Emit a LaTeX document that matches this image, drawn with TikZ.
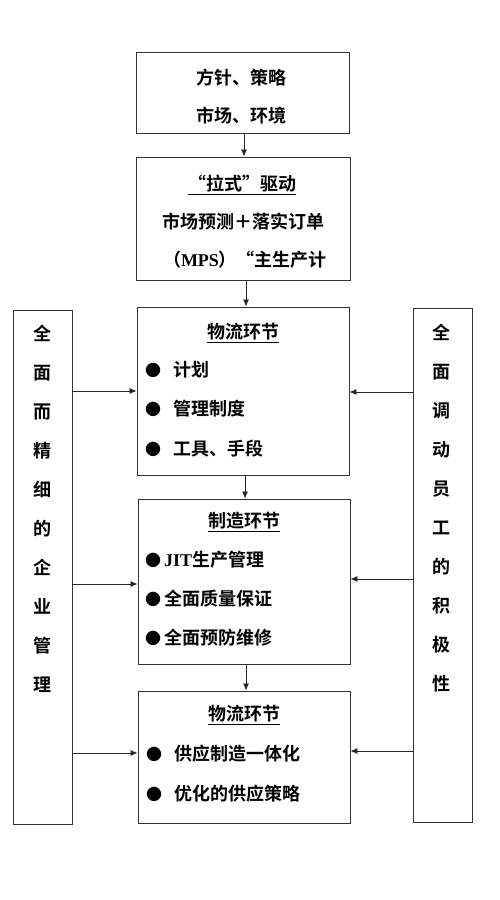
\documentclass[tikz,border=0pt]{standalone}
\usepackage{fontspec}
\usetikzlibrary{arrows.meta}
\newfontfamily\cjk{Noto Sans CJK SC}[BoldFont={* Bold}]
\newfontfamily\latinser{Liberation Serif}
\tikzset{
  box/.style={draw=black!80, line width=0.9pt, rectangle, inner sep=0pt},
  txt/.style={font={\cjk\bfseries\fontsize{18}{20}\selectfont}, inner sep=0pt, text=black},
  bul/.style={font={\cjk\fontsize{16}{18}\selectfont}, inner sep=0pt, text=black},
  vtxt/.style={font={\cjk\bfseries\fontsize{18}{39}\selectfont}, align=center, inner sep=0pt, text=black},
  arr/.style={draw=black!85, line width=0.8pt, -{Latex[length=7pt,width=6pt]}}
}
\newcommand{\ul}[1]{\underline{#1}}
\begin{document}
\begin{tikzpicture}[x=1pt,y=-1pt]
\useasboundingbox (0,0) rectangle (500,900);
% boxes
\node[box, minimum width=213pt, minimum height=81pt] (b1) at (242.5,92.5) {};
\node[box, minimum width=214pt, minimum height=123pt] (b2) at (243,218.5) {};
\node[box, minimum width=212pt, minimum height=168pt] (b3) at (243,391) {};
\node[box, minimum width=212pt, minimum height=165pt] (b4) at (244,581.5) {};
\node[box, minimum width=212pt, minimum height=132pt] (b5) at (244,757) {};
\node[box, minimum width=59pt, minimum height=514pt] (L) at (42.5,567) {};
\node[box, minimum width=59pt, minimum height=514pt] (R) at (442.5,565) {};
% box 1
\node[txt] (t11) at (241,78) {方针、策略};
\node[txt] (t12) at (241,116) {市场、环境};
% box 2
\node[txt] (t21) at (242,185) {\ul{“拉式”驱动}};
\node[txt] (t22) at (243,222) {市场预测＋落实订单};
\node[txt] (t23) at (245,260) {（{\latinser\bfseries MPS}）“主生产计};
% box 3
\node[txt] (t30) at (243,333) {\ul{物流环节}};
\node[bul] (p31) at (153,370) {●};
\node[bul] (p32) at (153,409) {●};
\node[bul] (p33) at (153,449) {●};
\node[txt, anchor=west] (t31) at (173,370) {计划};
\node[txt, anchor=west] (t32) at (173,409) {管理制度};
\node[txt, anchor=west] (t33) at (173,449) {工具、手段};
% box 4
\node[txt] (t40) at (244,522) {\ul{制造环节}};
\node[bul] (p41) at (153,560) {●};
\node[bul] (p42) at (153,599) {●};
\node[bul] (p43) at (153,638) {●};
\node[txt, anchor=west] (t41) at (164,560) {{\latinser\bfseries JIT}生产管理};
\node[txt, anchor=west] (t42) at (164,599) {全面质量保证};
\node[txt, anchor=west] (t43) at (164,638) {全面预防维修};
% box 5
\node[txt] (t50) at (244,715) {\ul{物流环节}};
\node[bul] (p51) at (154,754) {●};
\node[bul] (p52) at (154,794) {●};
\node[txt, anchor=west] (t51) at (174,754) {供应制造一体化};
\node[txt, anchor=west] (t52) at (174,794) {优化的供应策略};
% side texts
\node[vtxt] (tl) at (42.5,508.5) {全\\面\\而\\精\\细\\的\\企\\业\\管\\理};
\node[vtxt] (tr) at (441.5,508) {全\\面\\调\\动\\员\\工\\的\\积\\极\\性};
% vertical arrows
\draw[arr] ([xshift=1.5pt]b1.south) -- ([xshift=1.5pt]b1.south |- b2.north);
\draw[arr] ([xshift=3pt]b2.south) -- ([xshift=3pt]b2.south |- b3.north);
\draw[arr] ([xshift=2pt]b3.south) -- ([xshift=2pt]b3.south |- b4.north);
\draw[arr] ([xshift=2pt]b4.south) -- ([xshift=2pt]b4.south |- b5.north);
% horizontal arrows
\draw[arr] (L.east |- 0,391) -- (b3.west |- 0,391);
\draw[arr] (R.west |- 0,392) -- (b3.east |- 0,392);
\draw[arr] (L.east |- 0,584) -- (b4.west |- 0,584);
\draw[arr] (R.west |- 0,579) -- (b4.east |- 0,579);
\draw[arr] (L.east |- 0,753) -- (b5.west |- 0,753);
\draw[arr] (R.west |- 0,751) -- (b5.east |- 0,751);
\end{tikzpicture}
\end{document}
